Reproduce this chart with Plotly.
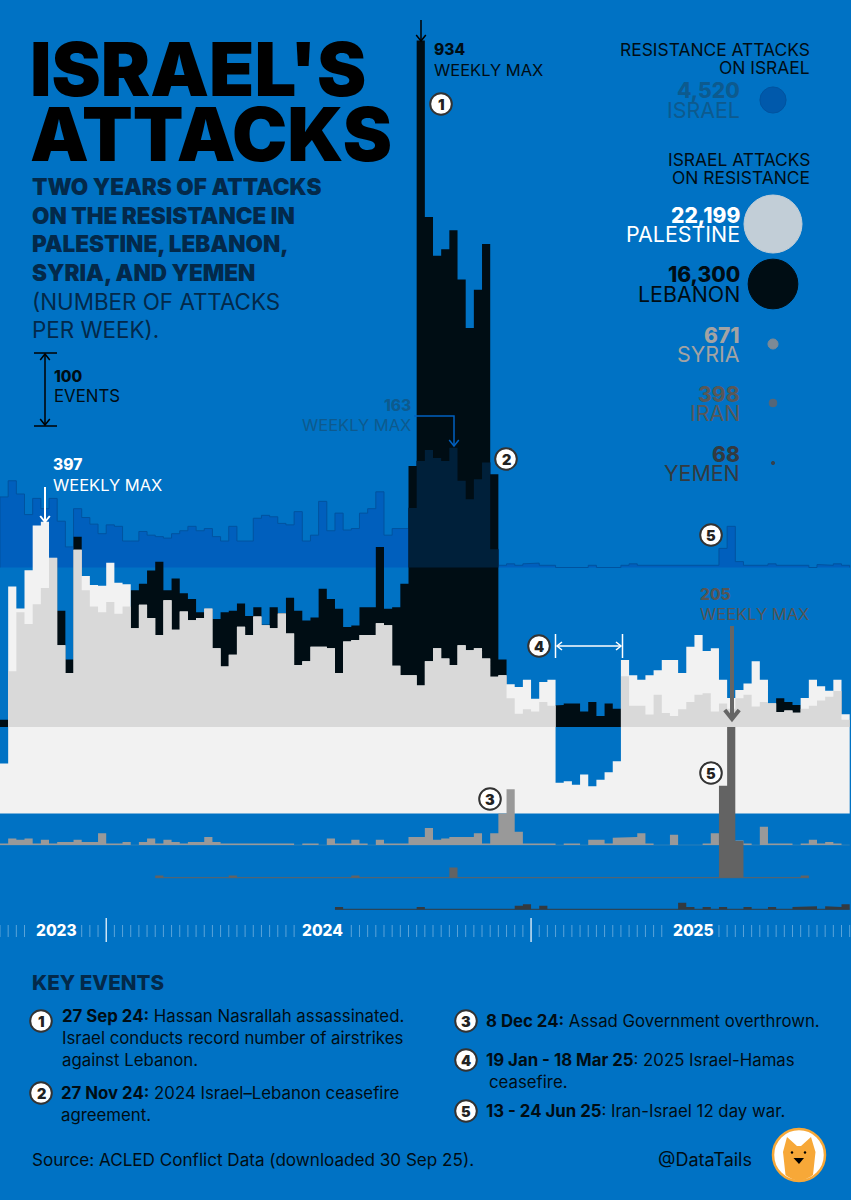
import numpy as np
import plotly.graph_objects as go

# Weekly attack counts, one value per week starting 2 Oct 2023
israel = [96,118,100,72,94,80,94,63,28,80,
          68,59,46,58,56,36,36,49,44,42,
          40,46,50,56,50,53,42,36,56,36,
          36,67,71,69,60,58,76,36,44,90,
          50,74,51,53,74,80,103,44,53,53,
          81,145,160,149,145,163,118,93,120,143,
          25,3,5,3,5,6,3,3,0,0,
          0,0,3,0,0,0,3,5,3,3,
          3,3,3,3,3,3,3,3,26,56,
          8,3,3,3,5,3,3,3,3,0,
          4,3,5,3]
palestine = [68,309,279,331,392,397,348,229,191,359,
             323,311,310,341,314,312,252,284,266,243,
             290,250,275,263,266,279,225,200,216,254,
             243,268,256,252,272,245,202,207,227,227,
             225,191,234,236,243,243,259,256,201,188,
             188,174,207,225,211,202,229,222,225,211,
             186,188,176,172,182,156,179,182,42,44,
             39,53,37,46,56,71,209,188,182,188,
             195,209,209,191,227,243,221,225,182,157,
             168,177,207,182,150,138,140,137,157,182,
             173,167,182,135]
lebanon = [10,76,156,140,167,189,230,158,92,259,
           186,164,156,170,154,164,186,195,213,225,
           186,202,182,174,156,161,147,156,158,168,
           151,163,139,163,155,176,158,145,149,188,
           174,161,136,138,163,163,245,161,163,195,
           355,934,694,641,650,676,609,543,595,657,
           344,92,39,18,24,21,34,29,30,32,
           32,21,34,15,32,25,69,29,29,17,
           44,19,15,24,34,44,46,21,32,25,
           39,44,28,34,32,39,34,30,25,29,
           36,41,49,10]
syria = [2,9,7,9,2,7,2,4,4,7,
         4,4,16,2,2,4,0,4,9,2,
         7,4,2,4,4,11,4,2,2,2,
         2,2,2,2,2,2,0,2,2,0,
         9,2,2,7,2,0,7,2,2,2,
         11,11,23,7,9,11,10,11,16,2,
         16,43,76,18,2,2,2,2,0,2,
         2,0,7,7,2,10,10,11,16,2,
         0,0,14,0,0,0,2,16,2,3,
         6,2,0,25,2,2,2,0,2,7,
         2,4,2,0]
iran = [0,0,0,0,0,0,0,0,0,0,
        0,0,0,0,0,0,0,0,0,3,
        0,0,0,0,0,0,0,0,3,0,
        0,0,0,0,0,0,0,0,0,0,
        0,0,0,3,0,0,0,0,0,0,
        0,0,0,0,0,14,0,0,0,0,
        0,0,0,0,0,0,0,0,0,0,
        0,0,0,0,0,0,0,0,0,0,
        0,0,0,0,0,0,0,0,125,205,
        50,0,0,0,0,0,0,0,3,0,
        0,0,0,0]
yemen = [0,0,0,0,0,0,0,0,0,0,
         0,0,0,0,0,0,0,0,0,0,
         0,0,0,0,0,0,0,0,0,0,
         0,0,0,0,0,0,0,0,0,0,
         0,3,0,0,0,0,0,0,0,0,
         0,3,0,0,0,0,0,0,0,0,
         0,0,0,5,7,0,5,0,0,0,
         0,0,0,0,0,0,0,0,0,0,
         0,0,0,9,3,0,3,0,3,0,
         0,3,0,0,3,0,0,3,3,4,
         0,4,3,7]

totals_names = ["ISRAEL", "PALESTINE", "LEBANON", "SYRIA", "IRAN", "YEMEN"]
totals_values = [4520, 22199, 16300, 671, 398, 68]
totals_colors = ["#0059ab", "#c2ced7", "#000d14", "#7c8a96", "#556677", "#33424f"]
text_colors = ["#0d5a8e", "#ffffff", "#000d14", "#a3a3a3", "#585858", "#333a40"]

year_labels = ["2023", "2024", "2025"]
year_boundaries = [13, 65]
untick_weeks = [4, 5, 6, 7, 8, 9, 37, 38, 39, 40, 41, 42, 82, 83, 84, 85, 86, 87]
surge_start = 50

# Canvas scale: bars are one week wide, heights are in events
W, H = 851, 1200
WEEK_PX = 8.17
PX_PER_EVENT = 0.735
BG = "#0072c4"
INK = "#000d14"
NAVY = "#03294a"
FONT = "Inter"


def ev(py):
    """Axis value of a canvas row."""
    return (H - py) / PX_PER_EVENT


def wk(px):
    """Axis value of a canvas column."""
    return px / WEEK_PX


base_israel = ev(567.5)
base_lebanon = ev(727)
base_palestine = ev(813.5)
base_syria = ev(845)
base_iran = ev(877.7)
base_yemen = ev(909.3)

n = len(palestine)
pal = np.array(palestine, float)
leb = np.array(lebanon, float)
isr = np.array(israel, float)
syr = np.array(syria, float)
iran_a = np.array(iran, float)
yem = np.array(yemen, float)

# The Palestine and Lebanon rows overlap; the shared part has its own tone
shared = np.clip(np.minimum(leb, pal - (base_lebanon - base_palestine)), 0, None)
# From the autumn 2024 surge on, the Israel row shows through the Lebanon bars
surge = np.where(np.arange(n) >= surge_start,
                 np.clip(np.minimum(isr, leb - (base_israel - base_lebanon)), 0, None), 0)


def steps(values, base, color, name, edge=None):
    """Weekly histogram as one filled step outline, so layering follows trace order."""
    xs, ys = [0], [base]
    for i, v in enumerate(values):
        xs += [i, i + 1]
        ys += [base + v, base + v]
    xs.append(n)
    ys.append(base)
    return go.Scatter(x=xs, y=ys, mode="lines", fill="toself", fillcolor=color, name=name,
                      hoverinfo="skip",
                      line=dict(color=edge or color, width=1 if edge else 0))


fig = go.Figure()
fig.add_trace(steps(isr, base_israel, "#005fbd", "Israel", "#00539f"))
fig.add_trace(steps(leb, base_lebanon, INK, "Lebanon"))
fig.add_trace(steps(pal, base_palestine, "#f2f2f2", "Palestine"))
fig.add_trace(steps(shared, base_lebanon, "#d9d9d9", "Shared"))
fig.add_trace(steps(surge, base_israel, "#00203a", "Surge"))
fig.add_trace(go.Scatter(x=[0, n], y=[base_syria, base_syria], mode="lines", hoverinfo="skip",
                         line=dict(color="#2a7fb8", width=1)))
fig.add_trace(steps(syr, base_syria, "#999999", "Syria"))

for values, base, color, name in [(iran_a, base_iran, "#636363", "Iran"),
                                  (yem, base_yemen, "#333a40", "Yemen")]:
    active = np.nonzero(values)[0]
    fig.add_trace(go.Scatter(x=[active[0], active[-1] + 1], y=[base, base], mode="lines",
                             hoverinfo="skip", line=dict(color=color, width=1)))
    fig.add_trace(steps(values, base, color, name))

# Weekly ruler under the chart
tx, ty, bx, by = [], [], [], []
for i in range(n + 1):
    if i in year_boundaries:
        bx += [i, i, None]
        by += [ev(918), ev(942), None]
    elif i not in untick_weeks:
        tx += [i, i, None]
        ty += [ev(925), ev(937), None]
fig.add_trace(go.Scatter(x=tx, y=ty, mode="lines", hoverinfo="skip",
                         line=dict(color="rgba(255,255,255,0.35)", width=1)))
fig.add_trace(go.Scatter(x=bx, y=by, mode="lines", hoverinfo="skip",
                         line=dict(color="#ffffff", width=1.2)))

# Proportional total circles
legend_rows = [100, 224, 284, 344, 403, 463]
diam = [2 * 29 * (v / max(totals_values)) ** 0.5 for v in totals_values]
fig.add_trace(go.Scatter(x=[wk(773)] * 6, y=[ev(r) for r in legend_rows], mode="markers",
                         hoverinfo="skip",
                         marker=dict(size=diam, sizemode="diameter", color=totals_colors,
                                     opacity=1,
                                     line=dict(width=1, color=["#00539f", "#c2ced7", "#000d14",
                                                               "#7c8a96", "#556677", "#33424f"]))))

annotations = []
shapes = []


def label(text, x, y, size, color, weight=400, anchor="left"):
    nudge = {"left": -1, "right": 1, "center": 0}[anchor]
    annotations.append(dict(text=text, x=(x + nudge) / W, y=1 - y / H, xref="paper", yref="paper",
                            xanchor=anchor, yanchor="middle", showarrow=False, align=anchor,
                            borderpad=0,
                            font=dict(family=FONT, size=size, color=color, weight=weight)))


def path(d, color, width=1.5, fill=None):
    shape = dict(type="path", path=d, xref="paper", yref="paper", layer="above",
                 line=dict(color=color, width=width))
    if fill:
        shape["fillcolor"] = fill
        if width == 0:
            shape["line"] = dict(width=0)
    shapes.append(shape)


def pt(x, y):
    return f"{x / W:.5f},{1 - y / H:.5f}"


def seg(points, color, width=1.5):
    path("M" + " L".join(pt(x, y) for x, y in points), color, width)


def head(x, y, dx, dy, color, width=1.5, size=6):
    """Open V arrow head at (x, y) pointing along (dx, dy)."""
    px, py = -dy, dx
    seg([(x - dx * size + px * size * 0.8, y - dy * size + py * size * 0.8), (x, y),
         (x - dx * size - px * size * 0.8, y - dy * size - py * size * 0.8)], color, width)


def circle(cx, cy, r, fill, line_color, width):
    shapes.append(dict(type="circle", xref="paper", yref="paper", layer="above",
                       x0=(cx - r) / W, x1=(cx + r) / W,
                       y0=1 - (cy + r) / H, y1=1 - (cy - r) / H,
                       fillcolor=fill, line=dict(color=line_color, width=width)))


def badge(num, cx, cy):
    circle(cx, cy, 10.8, "#ffffff", "#333333", 2)
    label(f"{num}", cx, cy, 14.5, "#222222", 900, "center")


# Title block
label("ISRAEL'S", 30, 69.5, 74, "#000000", 900)
label("ATTACKS", 30, 134, 74, "#000000", 900)
for i, line in enumerate(["TWO YEARS OF ATTACKS", "ON THE RESISTANCE IN", "PALESTINE, LEBANON,",
                          "SYRIA, AND YEMEN"]):
    label(line, 32, 187 + i * 28.4, 22.5, NAVY, 900)
label("(NUMBER OF ATTACKS", 32, 301, 22.4, NAVY)
label("PER WEEK).", 32, 329, 22.4, NAVY)

# Scale key
seg([(34, 353), (57, 353)], "#000000", 1.5)
seg([(34, 426), (57, 426)], "#000000", 1.5)
seg([(45, 354), (45, 425)], "#000000", 1.5)
head(45, 354, 0, -1, "#000000")
head(45, 425, 0, 1, "#000000")
label("100", 54, 376, 15.5, INK, 800)
label("EVENTS", 54, 396, 16.8, INK)

# Weekly maximum call-outs
seg([(421, 20), (421, 41)], "#000000", 1.5)
head(421, 41, 0, 1, "#000000")
label("934", 434, 50, 15.5, INK, 800)
label("WEEKLY MAX", 434, 70, 16.5, INK)

seg([(45, 487), (45, 522)], "#ffffff", 2)
head(45, 522, 0, 1, "#ffffff", 2)
label("397", 53, 465, 15.5, "#ffffff", 800)
label("WEEKLY MAX", 53, 485, 16.5, "#ffffff")

seg([(414, 416), (454, 416), (454, 446)], "#0060c0", 1.5)
head(454, 446, 0, 1, "#0060c0")
label("163", 411, 405, 15.5, "#0d5a8e", 800, "right")
label("WEEKLY MAX", 411, 425, 16.5, "#0d5a8e", 400, "right")

seg([(732, 626), (732, 718)], "#666666", 4)
head(732, 719, 0, 1, "#666666", 4, 9)
label("205", 700, 594, 15.5, "#555555", 800)
label("WEEKLY MAX", 700, 614, 16.5, "#555555")

# Ceasefire span
seg([(555.5, 634), (555.5, 658)], "#ffffff", 1.5)
seg([(622.5, 634), (622.5, 658)], "#ffffff", 1.5)
seg([(557, 646), (621, 646)], "#ffffff", 1.5)
head(557, 646, -1, 0, "#ffffff", 1.5, 5)
head(621, 646, 1, 0, "#ffffff", 1.5, 5)

for num, cx, cy in [(1, 441, 104), (2, 506, 459), (3, 490, 799), (4, 539, 646),
                    (5, 711, 535), (5, 711, 773)]:
    badge(num, cx, cy)

# Totals panel
label("RESISTANCE ATTACKS", 810, 50, 17.4, INK, 400, "right")
label("ON ISRAEL", 810, 68, 17.4, INK, 400, "right")
label("ISRAEL ATTACKS", 810, 160, 17.4, INK, 400, "right")
label("ON RESISTANCE", 810, 178, 17.4, INK, 400, "right")
for name, value, color, row in zip(totals_names, totals_values, text_colors, legend_rows):
    label(f"{value:,}", 740, row - 9, 21, color, 800, "right")
    label(name, 740, row + 10, 21.4, color, 400, "right")

# Year labels on the ruler
for text, x in zip(year_labels, [56, 322, 693]):
    label(text, x, 930, 15.5, "#ffffff", 800, "center")

# Key events
label("KEY EVENTS", 32, 982, 20.6, NAVY, 800)
badge(1, 41, 1021)
label("<b>27 Sep 24:</b> Hassan Nasrallah assassinated.", 62, 1016, 16.8, INK)
label("Israel conducts record number of airstrikes", 62, 1038, 16.8, INK)
label("against Lebanon.", 62, 1060, 16.8, INK)
badge(2, 41, 1093)
label("<b>27 Nov 24:</b> 2024 Israel\u2013Lebanon ceasefire", 61, 1093, 16.8, INK)
label("agreement.", 61, 1115, 16.8, INK)
badge(3, 466, 1021)
label("<b>8 Dec 24:</b> Assad Government overthrown.", 486, 1021, 16.8, INK)
badge(4, 466, 1060)
label("<b>19 Jan - 18 Mar 25</b>: 2025 Israel-Hamas", 486, 1060, 16.8, INK)
label("ceasefire.", 489, 1082, 16.8, INK)
badge(5, 466, 1111)
label("<b>13 - 24 Jun 25</b>: Iran-Israel 12 day war.", 486, 1111, 16.8, INK)

label("Source: ACLED Conflict Data (downloaded 30 Sep 25).", 32, 1159, 17.1, INK)
label("@DataTails", 658, 1159, 18, INK)

# Brand mark
circle(799, 1155, 26, "#ffffff", "#f7a838", 2.5)
path("M" + pt(785.5, 1175) + " L" + pt(783, 1152) + " L" + pt(787, 1137) + " L" + pt(797, 1146)
     + " L" + pt(801, 1146) + " L" + pt(811, 1137) + " L" + pt(815.5, 1152) + " L" + pt(813, 1175)
     + " Q" + pt(799, 1186) + " " + pt(785.5, 1175) + " Z", "#f7a838", 0, "#f7a838")
path("M" + pt(793.5, 1158) + " L" + pt(804, 1158) + " L" + pt(799, 1164) + " Z", "#000000", 0, "#000000")
circle(792, 1152.5, 1.2, "#000000", "#000000", 0)
circle(805, 1152.5, 1.2, "#000000", "#000000", 0)

fig.update_layout(
    width=W, height=H, margin=dict(l=0, r=0, t=0, b=0),
    paper_bgcolor=BG, plot_bgcolor=BG, showlegend=False,
    annotations=annotations, shapes=shapes,
    xaxis=dict(range=[0, wk(W)], visible=False, fixedrange=True),
    yaxis=dict(range=[0, H / PX_PER_EVENT], visible=False, fixedrange=True),
)
fig.write_html("out.html", config=dict(displayModeBar=False))
